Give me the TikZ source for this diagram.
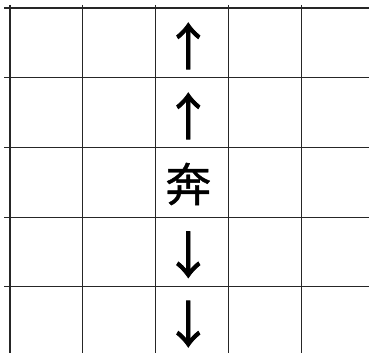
\documentclass[tikz,border=0pt]{standalone}
\usepackage{fontspec}
\newfontfamily\cjkarrow{Noto Sans CJK SC}[FakeBold=1.6]
\newfontfamily\cjkfb{Noto Sans CJK SC}[FakeBold=0.8]
\begin{document}
\begin{tikzpicture}[x=1pt,y=-1pt,
  gridline/.style={draw=black!85,line width=1.1pt},
  glyph/.style={font=\cjkarrow\fontsize{50}{50}\selectfont,inner sep=0pt,anchor=center},
  charstyle/.style={font=\cjkfb\fontsize{46}{46}\selectfont,inner sep=0pt,anchor=center}]
\useasboundingbox (0,0) rectangle (369,353);
\foreach \x in {10,82.8,155.6,228.4,301.2}
  \draw[gridline] (\x,5) -- (\x,353);
\foreach \y in {8,77.7,147.4,217.1,286.8}
  \draw[gridline] (4,\y) -- (369,\y);
\node[glyph] (a1) at (188.3,46) {↑};
\node[glyph] (a2) at (188.3,116) {↑};
\node[charstyle] (c) at (188.3,184) {奔};
\node[glyph] (a4) at (188.3,254.7) {↓};
\node[glyph] (a5) at (188.3,324) {↓};
\end{tikzpicture}
\end{document}
